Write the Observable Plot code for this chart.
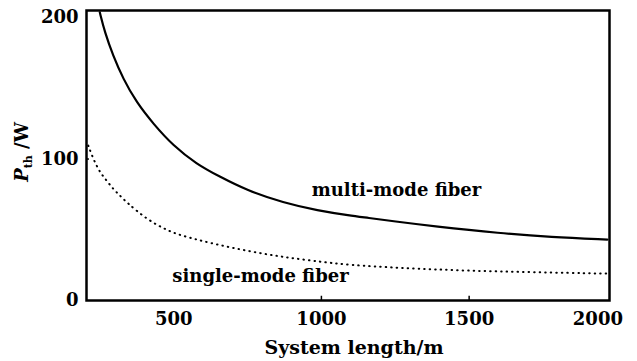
<!DOCTYPE html>
<html><head><meta charset="utf-8">
<script src="https://cdn.jsdelivr.net/npm/d3@7"></script>
<script src="https://cdn.jsdelivr.net/npm/@observablehq/plot@0.6"></script>
<style>
html,body{margin:0;padding:0;background:#fff;}
#chart{position:relative;width:637px;height:361px;}
</style>
</head><body><div id="chart"></div>
<script>
const multiLength = [250, 267, 295, 329, 374, 431, 498, 577, 656, 746, 872, 987, 1098, 1156, 1244, 1379, 1606, 1775, 1968];
const multiPower  = [203.7, 189.6, 173.1, 156.7, 140.1, 124.9, 109.5, 96.5, 87.5, 78, 69, 63.6, 60, 58.5, 56, 52.5, 47.5, 44.8, 43.1];
const singleLength = [211, 228, 250, 273, 295, 318, 340, 411, 479, 523, 635, 750, 861, 973, 1098, 1268, 1494, 1718, 1968];
const singlePower  = [109.5, 100, 90.7, 84.8, 78.9, 74.2, 69.5, 57, 49.5, 46, 40, 35, 31, 28, 25, 23, 21, 20, 19];
const xTicks = [500, 1000, 1500];
const xLastTick = [2000];
const yTicks = [0, 100, 200];
const labels = [
  {text: "multi-mode fiber", x: 1254, y: 78},
  {text: "single-mode fiber", x: 794, y: 17.5}
];

const multi = multiLength.map((x, i) => ({x, y: multiPower[i]}));
const single = singleLength.map((x, i) => ({x, y: singlePower[i]}));
const font = "DejaVu Serif";

const chart = Plot.plot({
  width: 637,
  height: 361,
  marginLeft: 86,
  marginRight: 28,
  marginTop: 10,
  marginBottom: 61,
  style: {fontFamily: font, fontSize: "18px", fontWeight: "bold", color: "#000", background: "#fff"},
  x: {domain: [205, 1975]},
  y: {domain: [0, 205]},
  marks: [
    Plot.line(multi, {x: "x", y: "y", stroke: "#000", strokeWidth: 2.2, curve: "basis", clip: true}),
    Plot.line(single, {x: "x", y: "y", stroke: "#000", strokeWidth: 2, strokeDasharray: "0.5,5", strokeLinecap: "round", curve: "basis", clip: true}),
    Plot.text(labels, {x: "x", y: "y", text: "text", fontSize: 18, fontWeight: "bold", fill: "#000"}),
    Plot.frame({stroke: "#000", strokeWidth: 2.5}),
    Plot.axisX(xTicks, {tickSize: 0, tickPadding: 12, fontSize: 18, tickFormat: "d", label: null}),
    Plot.axisX(xLastTick, {tickSize: 0, tickPadding: 12, fontSize: 18, tickFormat: "d", dx: -19, label: null}),
    Plot.axisY(yTicks, {tickSize: 0, tickPadding: 8, fontSize: 18, tickFormat: "d", label: null}),
    Plot.ruleX([1000, 1500], {y1: 0, y2: 3, stroke: "#000", strokeWidth: 1.5}),
    Plot.ruleY([100], {x1: 205, x2: 215, stroke: "#000", strokeWidth: 1.5})
  ]
});

const wrap = document.getElementById("chart");
wrap.appendChild(chart);

const ns = "http://www.w3.org/2000/svg";
const xt = document.createElementNS(ns, "text");
xt.setAttribute("x", 354);
xt.setAttribute("y", 354);
xt.setAttribute("text-anchor", "middle");
xt.setAttribute("font-family", font);
xt.setAttribute("font-size", "19");
xt.setAttribute("font-weight", "bold");
xt.textContent = "System length/m";
chart.appendChild(xt);

const yt = document.createElementNS(ns, "text");
yt.setAttribute("transform", "translate(28,152) rotate(-90)");
yt.setAttribute("text-anchor", "middle");
yt.setAttribute("font-family", font);
yt.setAttribute("font-size", "18");
yt.setAttribute("font-weight", "bold");
const p = document.createElementNS(ns, "tspan"); p.textContent = "P";
p.setAttribute("font-style", "italic");
const sub = document.createElementNS(ns, "tspan"); sub.textContent = "th";
sub.setAttribute("font-size", "11"); sub.setAttribute("dy", "4");
const rest = document.createElementNS(ns, "tspan"); rest.textContent = " /W";
rest.setAttribute("dy", "-4");
yt.append(p, sub, rest);
chart.appendChild(yt);
</script>
</body></html>
